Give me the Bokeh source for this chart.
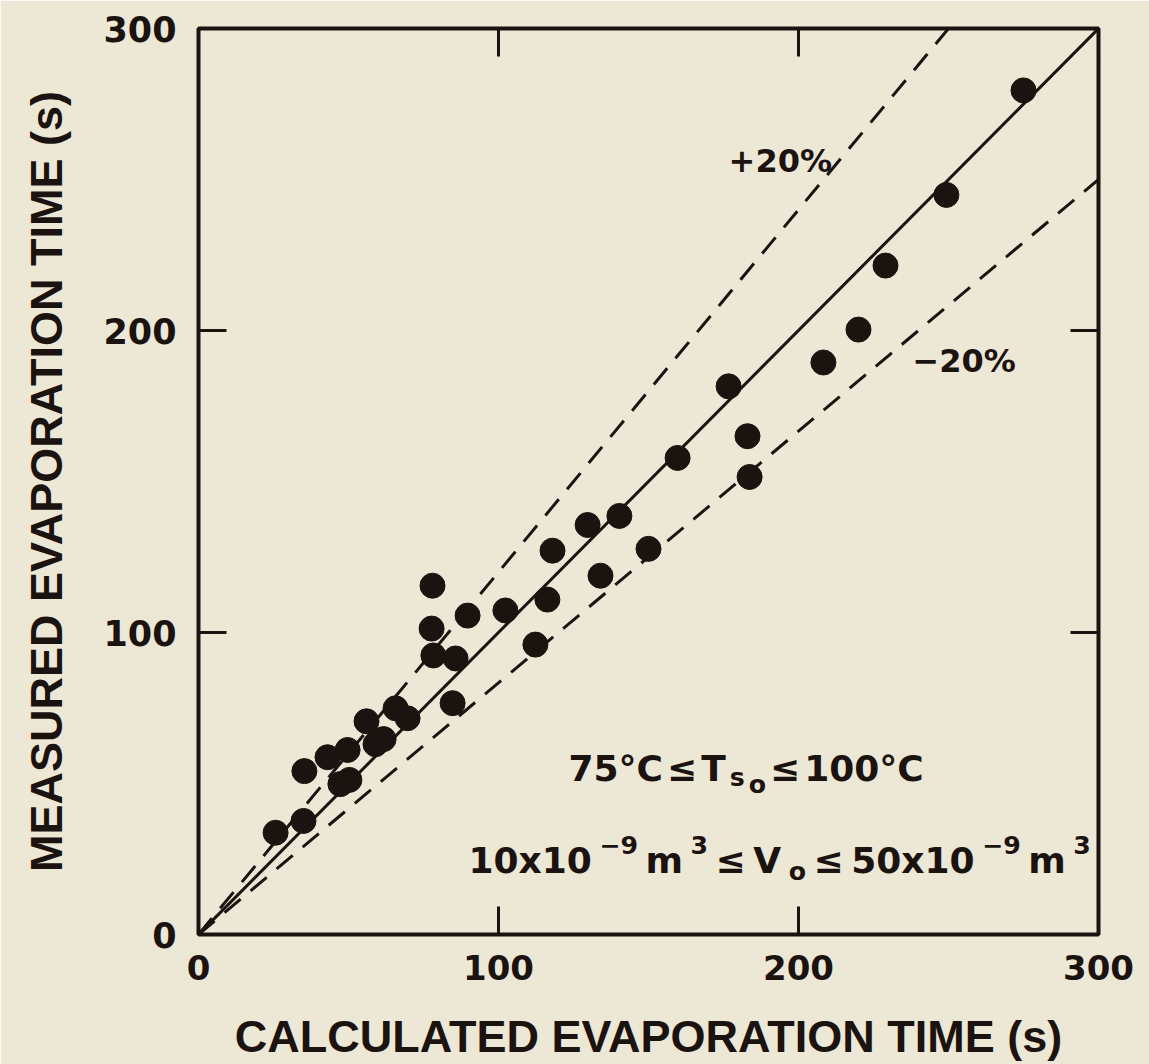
from bokeh.plotting import figure
from bokeh.models import Range1d, FixedTicker, LinearAxis, Label
from bokeh.embed import file_html
from bokeh.resources import INLINE

# ---- data ----
calc_time = [25.7, 35.0, 35.3, 43.0, 49.7, 47.3, 50.3, 56.0, 59.0, 61.7, 65.7, 69.7,
             84.7, 77.7, 78.0, 78.3, 85.7, 89.7, 102.3, 112.3, 116.3, 118.0, 129.7,
             134.0, 140.3, 150.0, 159.7, 176.7, 183.0, 183.7, 208.3, 220.0, 229.0,
             249.3, 275.0]
meas_time = [33.7, 37.6, 54.1, 58.7, 61.1, 49.8, 51.2, 70.6, 63.0, 64.7, 74.9, 71.6,
             76.6, 101.3, 115.5, 92.4, 91.4, 105.6, 107.3, 96.0, 110.9, 127.1, 135.6,
             118.8, 138.6, 127.7, 157.8, 181.5, 165.0, 151.5, 189.4, 200.3, 221.5,
             244.9, 279.5]
equal_x = [0, 300]
equal_y = [0, 300]
plus20_x = [0, 250]
plus20_y = [0, 300]
minus20_x = [0, 300]
minus20_y = [0, 250]
tick_values = [0, 100, 200, 300]

INK = "#1b1310"
PAPER = "#ede7d6"

p = figure(width=1149, height=1064, output_backend="svg", toolbar_location=None,
           x_range=Range1d(0, 300), y_range=Range1d(0, 300),
           min_border_left=198, min_border_right=51, min_border_top=28,
           min_border_bottom=127)
p.background_fill_color = PAPER
p.border_fill_color = PAPER
p.grid.visible = False
p.outline_line_color = INK
p.outline_line_width = 4

def style_axis(ax, labels=True):
    ax.ticker = FixedTicker(ticks=tick_values)
    ax.axis_line_color = None
    ax.major_tick_in = 28
    ax.major_tick_out = 0
    ax.major_tick_line_color = INK
    ax.major_tick_line_width = 3
    ax.minor_tick_line_color = None
    if not labels:
        ax.major_label_text_color = None
        ax.major_label_text_font_size = "1px"

for ax in p.xaxis:
    style_axis(ax)
    ax.major_label_text_font = "DejaVu Sans"
    ax.major_label_text_font_size = "34px"
    ax.major_label_text_font_style = "bold"
    ax.major_label_text_color = INK
    ax.major_label_standoff = 20
    ax.axis_label = "CALCULATED EVAPORATION TIME (s)"
    ax.axis_label_text_font = "Liberation Sans"
    ax.axis_label_text_font_size = "45px"
    ax.axis_label_text_font_style = "bold"
    ax.axis_label_text_color = INK
    ax.axis_label_standoff = 28
for ax in p.yaxis:
    style_axis(ax)
    ax.major_label_text_font = "DejaVu Sans"
    ax.major_label_text_font_size = "35px"
    ax.major_label_text_font_style = "bold"
    ax.major_label_text_color = INK
    ax.major_label_standoff = 22
    ax.major_label_orientation = "horizontal"
    ax.axis_label = "MEASURED EVAPORATION TIME (s)"
    ax.axis_label_text_font = "Liberation Sans"
    ax.axis_label_text_font_size = "45px"
    ax.axis_label_text_font_style = "bold"
    ax.axis_label_text_color = INK
    ax.axis_label_standoff = 28

ra = LinearAxis()
style_axis(ra, labels=False)
p.add_layout(ra, "right")
ta = LinearAxis()
style_axis(ta, labels=False)
p.add_layout(ta, "above")

p.line(equal_x, equal_y, line_color=INK, line_width=3)
p.line(plus20_x, plus20_y, line_color=INK, line_width=3, line_dash="21 13")
p.line(minus20_x, minus20_y, line_color=INK, line_width=3, line_dash="21 13")
p.scatter(calc_time, meas_time, size=25, fill_color=INK, line_color=INK)

FONT = "DejaVu Sans"
W = {'0': .696, '1': .696, '2': .696, '3': .696, '4': .696, '5': .696, '6': .696,
     '7': .696, '8': .696, '9': .696, '°': .5, 'C': .735, '≤': .838, 'T': .683,
     's': .595, 'o': .687, 'x': .643, 'm': 1.042, 'V': .776, '−': .838, ' ': .348}

def pieces(x0, y0, parts, F, gap):
    off = 0.0
    for s, scale, dy in parts:
        size = F * scale
        p.add_layout(Label(x=x0, y=y0, x_offset=off, y_offset=dy * F, text=s,
                           text_font=FONT, text_font_size=f"{size:.1f}px",
                           text_font_style="bold",
                           text_color=INK, text_baseline="alphabetic",
                           text_align="left"))
        off += sum(W[c] for c in s) * size + gap

F = 36
pieces(123.3, 55, [("75°C", 1, 0), ("≤", 1, 0), ("T", 1, 0), ("s", .7, -.25),
                   ("o", .7, -.45), ("≤", 1, 0), ("100°C", 1, 0)], F, 4)
pieces(90, 24.5, [("10x10", 1, 0), ("−9", .7, .42), ("m", 1, 0), ("3", .7, .42),
                  ("≤", 1, 0), ("V", 1, 0), ("o", .7, -.3), ("≤", 1, 0),
                  ("50x10", 1, 0), ("−9", .7, .42), ("m", 1, 0), ("3", .7, .42)], F, 7.5)

p.add_layout(Label(x=176.7, y=256, text="+20%", text_font=FONT, text_font_size="32px",
                   text_font_style="bold",
                   text_color=INK, text_baseline="alphabetic"))
p.add_layout(Label(x=238, y=190, text="−20%", text_font=FONT, text_font_size="32px",
                   text_font_style="bold",
                   text_color=INK, text_baseline="alphabetic"))

open("out.html", "w").write(file_html(p, INLINE))
